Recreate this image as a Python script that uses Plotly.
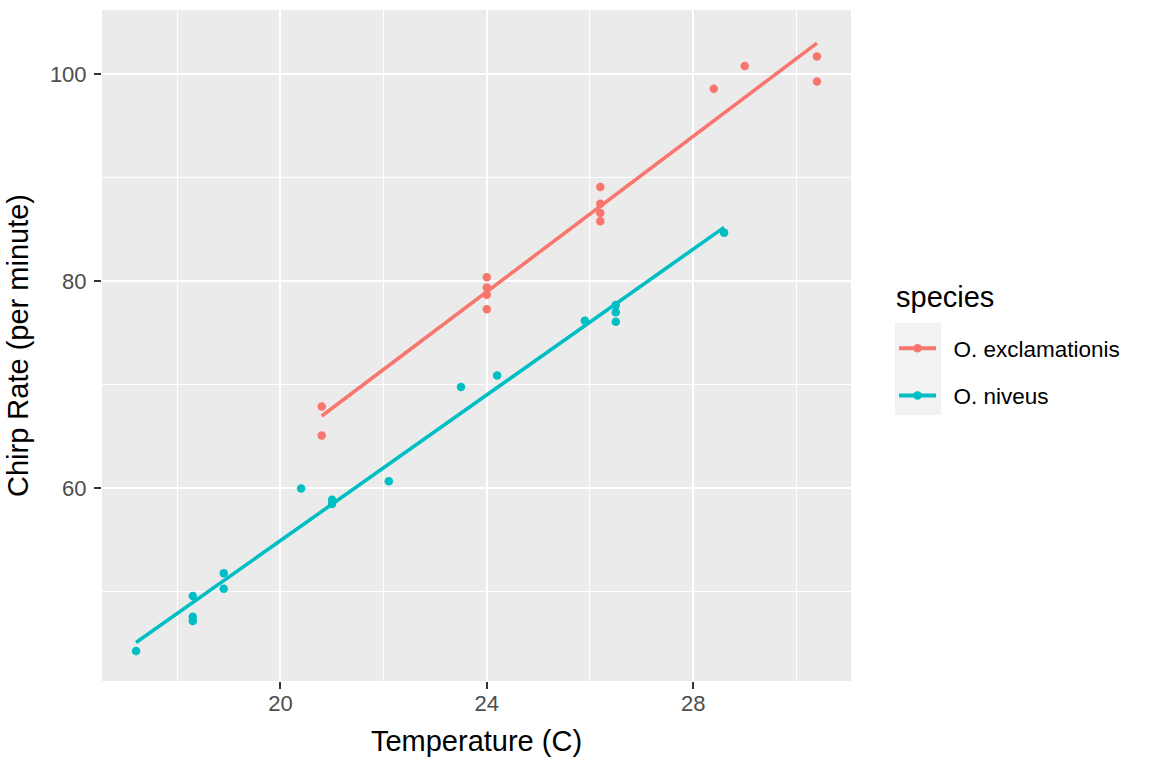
import numpy as np
import plotly.graph_objects as go

# Data (crickets)
exc_temp = [20.8, 20.8, 24.0, 24.0, 24.0, 24.0, 26.2, 26.2, 26.2, 26.2, 28.4, 29.0, 30.4, 30.4]
exc_rate = [67.9, 65.1, 77.3, 78.7, 79.4, 80.4, 85.8, 86.6, 87.5, 89.1, 98.6, 100.8, 99.3, 101.7]
niv_temp = [17.2, 18.3, 18.3, 18.3, 18.9, 18.9, 20.4, 21.0, 21.0, 22.1, 23.5, 24.2, 25.9, 26.5, 26.5, 26.5, 28.6]
niv_rate = [44.3, 47.2, 47.6, 49.6, 50.3, 51.8, 60.0, 58.5, 58.9, 60.7, 69.8, 70.9, 76.2, 76.1, 77.0, 77.7, 84.7]
species = ["O. exclamationis", "O. niveus"]
colors = ["#F8766D", "#00BFC4"]

W, H = 1152, 768
L, R, T, B = 102, 851, 10, 681
FONT = "Liberation Sans, Arial"

fig = go.Figure()
for name, xs, ys, col in [(species[0], exc_temp, exc_rate, colors[0]),
                          (species[1], niv_temp, niv_rate, colors[1])]:
    xs = np.array(xs); ys = np.array(ys)
    fig.add_trace(go.Scatter(x=xs, y=ys, mode="markers", showlegend=False,
                             marker=dict(color=col, size=8.5), hoverinfo="skip"))
    b, a = np.polyfit(xs, ys, 1)
    xl = np.linspace(xs.min(), xs.max(), 80)
    fig.add_trace(go.Scatter(x=xl, y=a + b * xl, mode="lines", showlegend=False,
                             line=dict(color=col, width=3.6)))
    fig.add_trace(go.Scatter(x=[None], y=[None], mode="lines+markers",
                             name="\u00a0\u00a0" + name,
                             legendgroup=name, line=dict(color=col, width=4),
                             marker=dict(color=col, size=8.5)))

def px_x(p):
    return (p - L) / (R - L)

def px_y(p):
    return (B - p) / (B - T)

fig.add_shape(type="rect", xref="paper", yref="paper", layer="below",
              x0=px_x(895), x1=px_x(941), y0=px_y(415), y1=px_y(323),
              fillcolor="#F2F2F2", line=dict(width=0))
fig.add_annotation(text="species", xref="paper", yref="paper", x=px_x(894), y=px_y(297),
                   xanchor="left", yanchor="middle", showarrow=False,
                   font=dict(family=FONT, size=29, color="black"))

axis_common = dict(showline=False, zeroline=False, ticks="outside", ticklen=7,
                   tickcolor="#333333", tickwidth=2, gridcolor="white", gridwidth=2,
                   automargin=False,
                   tickfont=dict(family=FONT, size=22, color="#4D4D4D"),
                   title_font=dict(family=FONT, size=29, color="black"))

fig.update_layout(
    width=W, height=H,
    margin=dict(l=L, r=W - R, t=T, b=H - B),
    paper_bgcolor="white", plot_bgcolor="#EBEBEB",
    font=dict(family=FONT, color="black"),
    xaxis=dict(range=[16.54, 31.06], tick0=0, dtick=4, title_text="Temperature (C)",
               title_standoff=15, ticklabelstandoff=-4,
               minor=dict(dtick=2, tick0=0, showgrid=True, gridcolor="white", gridwidth=1, ticks=""),
               **axis_common),
    yaxis=dict(range=[41.4, 106.2], tick0=0, dtick=20, title_text="Chirp Rate (per minute)",
               title_standoff=12, ticklabelstandoff=3,
               minor=dict(dtick=10, tick0=0, showgrid=True, gridcolor="white", gridwidth=1, ticks=""),
               **axis_common),
    legend=dict(x=px_x(894), y=px_y(327), xanchor="left", yanchor="top",
                bgcolor="rgba(0,0,0,0)", tracegroupgap=15,
                font=dict(family=FONT, size=22.5, color="black"), itemwidth=37),
    showlegend=True,
)

fig.write_html("out.html", config={"displayModeBar": False},
               post_script="document.body.style.margin='0';document.body.style.overflow='hidden';")
